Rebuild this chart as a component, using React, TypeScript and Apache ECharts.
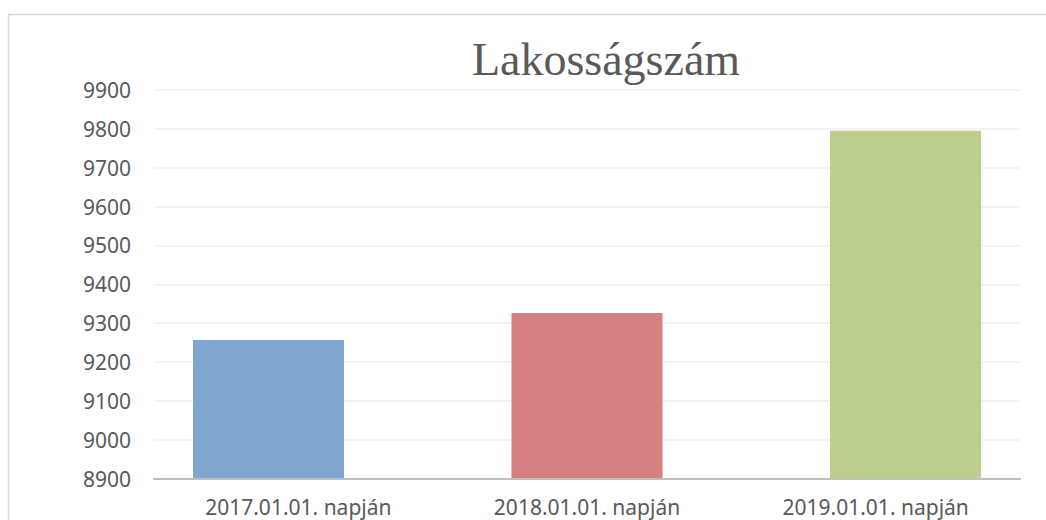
import React, { useEffect, useRef } from "react";
import * as echarts from "echarts";

const categories = ["2017.01.01. napján", "2018.01.01. napján", "2019.01.01. napján"];
const values = [9257, 9326, 9795];
const barColors = ["#80A5CF", "#D48081", "#BBCE8D"];
const yMin = 8900;
const yMax = 9900;
const yStep = 100;
const titleText = "Lakosságszám";

export default function App() {
  const ref = useRef<HTMLDivElement>(null);
  useEffect(() => {
    if (!ref.current) return;
    const chart = echarts.init(ref.current, undefined, { renderer: "svg" });
    const labelFont = { fontFamily: "Noto Sans", fontSize: 21, color: "#595959" };
    chart.setOption({
      animation: false,
      backgroundColor: "#ffffff",
      graphic: [
        {
          type: "rect",
          shape: { x: 8.5, y: 14.5, width: 1100, height: 600 },
          style: { fill: "none", stroke: "#D9D9D9", lineWidth: 1.5 },
          silent: true,
        },
        {
          type: "text",
          x: 606,
          y: 59,
          style: {
            text: titleText,
            fontFamily: "Liberation Serif",
            fontSize: 46,
            fill: "#595959",
            align: "center",
            verticalAlign: "middle",
          },
        },
      ],
      grid: [
        { left: 154, right: 26, top: 90, bottom: 41.3, outerBoundsMode: "none", containLabel: false },
        { left: 109.25, width: 955.5, top: 90, bottom: 41.3, outerBoundsMode: "none", containLabel: false },
      ],
      xAxis: [
        {
          type: "category",
          gridIndex: 0,
          data: categories,
          axisLine: { show: true, lineStyle: { color: "#BFBFBF", width: 2.2 } },
          axisTick: { show: false },
          axisLabel: { ...labelFont, margin: 18 },
          splitLine: { show: false },
          z: 5,
        },
        {
          type: "category",
          gridIndex: 1,
          data: categories,
          show: false,
        },
      ],
      yAxis: [
        {
          type: "value",
          gridIndex: 0,
          min: yMin,
          max: yMax,
          interval: yStep,
          axisLine: { show: false },
          axisTick: { show: false },
          axisLabel: { ...labelFont, margin: 23, formatter: (v: number) => String(v) },
          splitLine: { lineStyle: { color: "#EFEFEF", width: 1.5 } },
        },
        {
          type: "value",
          gridIndex: 1,
          min: yMin,
          max: yMax,
          interval: yStep,
          show: false,
          splitLine: { show: false },
        },
      ],
      series: [
        {
          type: "bar",
          xAxisIndex: 1,
          yAxisIndex: 1,
          barWidth: 151,
          data: values.map((v, i) => ({ value: v, itemStyle: { color: barColors[i] } })),
          z: 3,
        },
      ],
    });
    return () => chart.dispose();
  }, []);
  return (
    <div
      ref={ref}
      style={{ position: "fixed", left: 0, top: 0, width: 1046, height: 520 }}
    />
  );
}
